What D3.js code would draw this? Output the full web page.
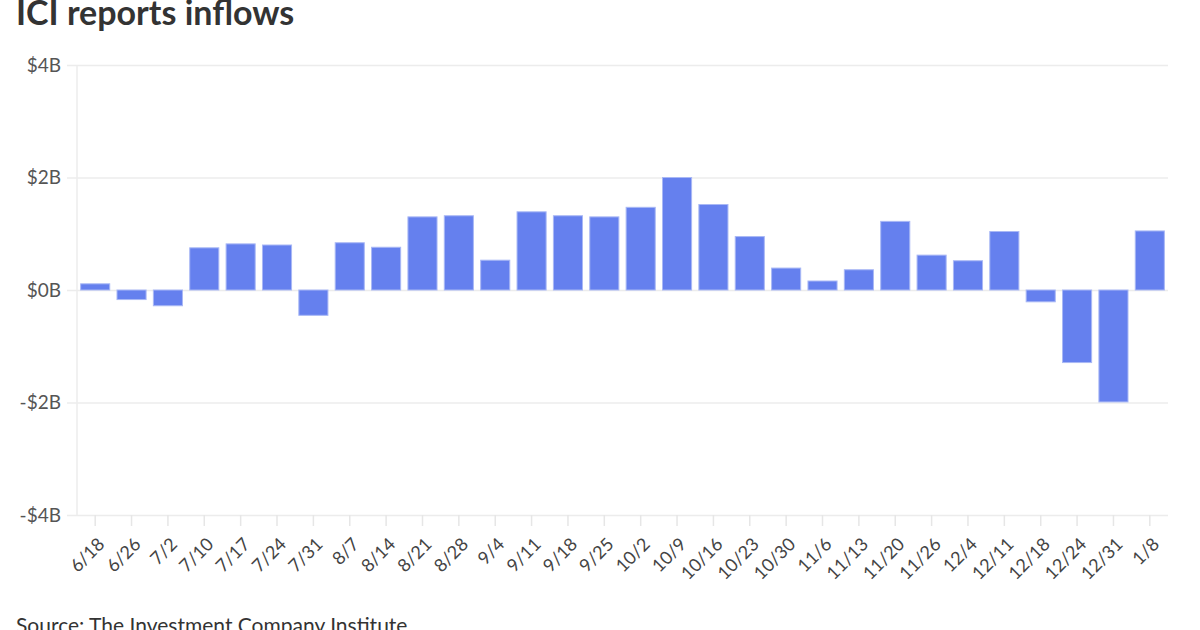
<!DOCTYPE html>
<html><head><meta charset="utf-8">
<script src="https://cdn.jsdelivr.net/npm/d3@7"></script>
<style>
body{margin:0;background:#fff;}
text{font-family:Lato,"Open Sans",sans-serif;}
</style></head>
<body><svg id="c" width="1200" height="630"></svg>
<script>
const categories = ["6/18","6/26","7/2","7/10","7/17","7/24","7/31","8/7","8/14","8/21","8/28","9/4","9/11","9/18","9/25","10/2","10/9","10/16","10/23","10/30","11/6","11/13","11/20","11/26","12/4","12/11","12/18","12/24","12/31","1/8"];
const inflows = [0.11,-0.17,-0.28,0.75,0.82,0.80,-0.45,0.84,0.76,1.30,1.32,0.53,1.39,1.32,1.30,1.47,2.0,1.52,0.95,0.39,0.16,0.36,1.22,0.62,0.52,1.04,-0.21,-1.29,-1.99,1.05];
const yTicks = [-4,-2,0,2,4];
const yTickLabels = ["-$4B","-$2B","$0B","$2B","$4B"];

(function(){
const svg = d3.select("#c");
const L = 77, R = 1168, T = 65, B = 515;
const x = d3.scaleBand().domain(categories).range([L,R]).paddingInner(0.2).paddingOuter(0.1);
const y = d3.scaleLinear().domain([-4,4]).range([B,T]);

svg.append("text").attr("x",16).attr("y",25).attr("font-size",34).attr("font-weight",700).attr("fill","#333").text("ICI reports inflows");

// grid + y axis
const yAxis = d3.axisLeft(y).tickValues(yTicks).tickFormat((d,i)=>yTickLabels[i]).tickSize(0).tickPadding(6);
const gy = svg.append("g").attr("transform",`translate(${L-10},0)`).call(yAxis);
gy.select(".domain").remove();
gy.selectAll("line").attr("stroke","#ececec").attr("stroke-width",1.5).attr("x1",0).attr("x2",R-L+10);
gy.selectAll("text").attr("font-size",19).attr("fill","#555").attr("x",-6);
svg.append("line").attr("x1",L).attr("x2",L).attr("y1",T).attr("y2",B).attr("stroke","#ececec").attr("stroke-width",1.5);

// bars
svg.append("g").selectAll("rect").data(inflows).join("rect")
  .attr("x",(d,i)=>x(categories[i]))
  .attr("width",x.bandwidth())
  .attr("y",d=>y(Math.max(0,d)))
  .attr("height",d=>Math.abs(y(d)-y(0)))
  .attr("fill","#6580ee")
  .attr("stroke","#a9b8f5").attr("stroke-width",1);

// x axis
const xAxis = d3.axisBottom(x).tickSize(11).tickPadding(4);
const gx = svg.append("g").attr("transform",`translate(0,${B})`).call(xAxis);
gx.select(".domain").remove();
gx.selectAll("line").attr("stroke","#e6e6e6").attr("stroke-width",1.5);
gx.selectAll("text").attr("font-size",18).attr("fill","#444")
  .attr("text-anchor","end").attr("y",0).attr("dy","0.35em").attr("transform","translate(6,26) rotate(-45)");

svg.append("text").attr("x",16).attr("y",633).attr("font-size",21).attr("fill","#333").text("Source: The Investment Company Institute");
})();
</script></body></html>
